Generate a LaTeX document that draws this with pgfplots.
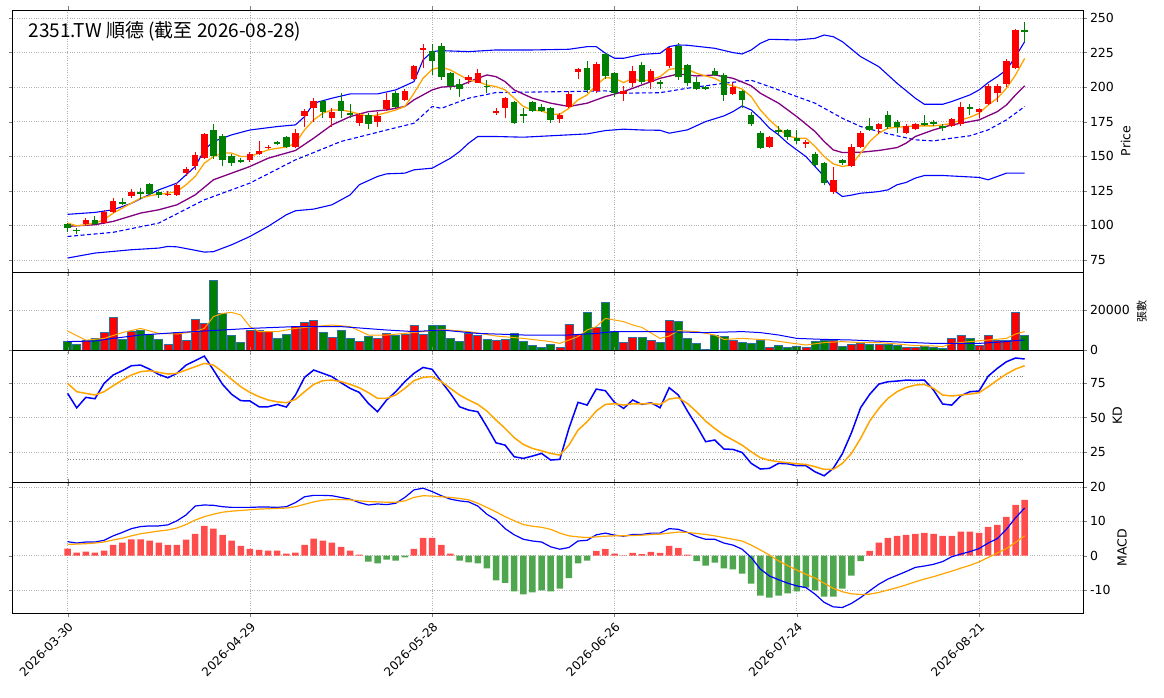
\documentclass[border=0pt]{standalone}
\usepackage{pgfplots}
\pgfplotsset{compat=1.18}
\usepackage{pgfplotstable}
\usepackage{fontspec}
\setmainfont{DejaVu Sans}
\newfontfamily\cjk{Noto Sans CJK TC}
\definecolor{cred}{HTML}{FF0000}
\definecolor{cgreen}{HTML}{008000}
\definecolor{hred}{HTML}{FF4C4C}
\definecolor{hgreen}{HTML}{4EA64E}
\definecolor{vedge}{HTML}{2F6F9F}
\definecolor{corange}{HTML}{FFA500}
\definecolor{cpurple}{HTML}{800080}
\pgfplotstableread{
i o c v h l
0 101 98 4500 102 95
1 97 96 2800 98 94
2 101 104 5000 105 100
3 104 101 6000 107 100
4 102 110 9000 111 101
5 110 118 16500 120 109
6 117 116 5500 120 115
7 121 124 9500 126 120
8 124 123 10000 127 119
9 130 123 8000 131 122
10 124 122 5500 126 120
11 122 123 3000 125 121
12 122 129 9000 131 121
13 138 141 5000 142 136
14 143 151 15500 153 140
15 149 166 13500 167 148
16 169 150 35000 173 148
17 165 147 18500 166 143
18 150 145 7500 152 143
19 147 146 4000 149 145
20 147 152 10000 153 146
21 152 154 10000 161 151
22 156 157 9500 158 155
23 160 159 6000 161 158
24 164 157 8000 165 156
25 157 167 12000 170 156
26 179 183 14000 184 171
27 185 190 15000 192 175
28 190 182 9000 191 178
29 178 182 6500 185 171
30 190 183 10000 196 178
31 181 180 6000 188 178
32 174 180 4500 181 172
33 180 173 7000 181 170
34 175 179 6000 182 171
35 184 191 8500 196 183
36 196 186 7500 197 185
37 191 197 8000 199 190
38 206 215 12500 216 205
39 227 228 8000 231 214
40 226 219 12500 231 209
41 230 207 12500 232 205
42 210 201 6000 211 198
43 202 199 4500 206 193
44 205 207 8500 209 202
45 203 210 7500 213 203
46 201 200 5500 205 196
47 181 183 5000 185 180
48 185 192 5500 193 178
49 189 174 8500 190 173
50 180 180 4500 185 174
51 189 183 2500 190 182
52 186 183 1500 188 182
53 185 176 3000 186 174
54 177 180 1500 181 174
55 186 195 13000 197 185
56 211 213 8000 214 206
57 214 198 19000 219 196
58 197 217 11500 218 196
59 224 208 24000 225 206
60 210 196 9500 211 193
61 195 197 4000 201 190
62 203 212 6500 215 200
63 216 204 6500 218 202
64 204 212 5000 213 199
65 204 202 4000 205 199
66 215 228 15000 229 214
67 230 207 14500 232 205
68 216 203 6000 217 201
69 204 199 3500 207 198
70 200 199 300 201 198
71 212 209 7500 214 208
72 209 194 7000 210 190
73 195 200 5000 204 194
74 197 191 4000 198 185
75 180 173 3500 182 172
76 167 156 5000 168 155
77 157 164 1500 165 156
78 169 168 2500 172 165
79 169 164 1500 170 162
80 163 161 2000 169 159
81 159 160 1500 162 156
82 152 144 4500 153 143
83 145 131 5000 146 129
84 124 133 5000 142 123
85 147 145 2000 148 144
86 143 157 3000 159 142
87 157 167 3500 168 156
88 172 169 3000 178 168
89 170 173 3000 174 166
90 180 171 3000 183 170
91 175 171 2500 176 167
92 167 172 1500 173 166
93 170 173 1500 174 169
94 174 173 2000 180 172
95 175 173 1500 176 172
96 172 171 1000 173 168
97 172 177 6000 178 171
98 173 186 7500 189 172
99 186 184 6000 188 180
100 182 184 2500 185 178
101 188 201 7500 202 187
102 196 201 5000 202 189
103 202 219 5000 220 200
104 214 241 19000 242 213
105 241 240 7500 247 233
}\candles
\pgfplotstableread{
i k d
0 67.5 74.7
1 57 68.7
2 64.6 67.5
3 63.6 66.3
4 74.7 68.7
5 80.8 73
6 83.9 77.1
7 87.5 80.8
8 88 83.2
9 85 83.9
10 81.2 82.7
11 78.8 81.5
12 82 82
13 88 84.4
14 91.2 86.8
15 94.5 89.2
16 84.4 88
17 74 83.2
18 66.8 77.6
19 62.2 72.3
20 62 68.2
21 57.8 65.1
22 57.8 62.7
23 59.5 61.4
24 57.6 60.7
25 66.3 63.1
26 79.1 68.7
27 84.4 74
28 82 76.7
29 79.6 77.1
30 75.2 76
31 71.1 74
32 68.2 71.6
33 60.2 68
34 54.2 63.9
35 62.7 63.9
36 68.7 66.3
37 76 71.1
38 82 76.7
39 86.3 79.1
40 84.9 79.6
41 76 76
42 67.5 71.1
43 57.8 66.3
44 55.4 62.7
45 54.2 59.5
46 43.3 54.7
47 31.7 48.2
48 30 42.1
49 21.6 35.4
50 20.4 30.5
51 22.1 27.6
52 24 25.9
53 19.2 24
54 19.7 22.8
55 42.1 30
56 61 40.9
57 59 47
58 70.6 54.7
59 69.4 59.5
60 61 60
61 56.6 59
62 62.7 60
63 59.5 59.8
64 60.7 60.2
65 57.1 59.5
66 71.6 63.4
67 66.3 64.3
68 54.7 60.2
69 44.1 54.2
70 32.5 47.4
71 33.7 42.1
72 27.2 37.3
73 26.9 33.7
74 24.7 30
75 16.8 25.2
76 12.7 20.9
77 13.2 19
78 16.8 18
79 16.5 17.3
80 15.1 16.5
81 15.1 16
82 10.7 14.4
83 7.8 12.4
84 13.2 12.4
85 23.8 16.8
86 39 24
87 57.1 34.9
88 66.8 47.4
89 74.2 56.6
90 75.9 63.9
91 76.4 68.7
92 77.1 71.8
93 76.9 73.5
94 77.1 74
95 69.9 71.1
96 59.8 66.3
97 59 65.6
98 65.8 66.3
99 68.7 67
100 69.2 68
101 80 72.3
102 85.6 77.1
103 90.4 81.5
104 93.1 85.1
105 92.4 87.5
}\kd
\pgfplotstableread{
i dif dea h
0 4.1 3.3 2.1
1 3.7 3.4 0.9
2 4.0 3.5 1.2
3 4.0 3.7 0.9
4 4.5 4.0 1.5
5 5.8 4.6 3.2
6 6.8 5.1 3.8
7 7.9 5.8 4.8
8 8.5 6.4 4.8
9 8.7 6.8 4.4
10 8.7 7.2 3.8
11 9.0 7.5 3.2
12 10.2 8.1 3.2
13 11.9 9.1 4.7
14 14.5 10.4 6.4
15 14.8 11.4 8.7
16 14.7 12.1 7.9
17 14.3 12.7 6.1
18 14.1 13 4.4
19 14.1 13.2 2.9
20 14.1 13.4 2.0
21 14.2 13.6 1.7
22 14.2 13.7 1.5
23 14.1 13.8 1.5
24 14.3 13.9 0.6
25 15.5 14.3 0.9
26 17.2 15 3.2
27 17.6 15.7 5.0
28 17.6 16.2 4.4
29 17.5 16.4 3.8
30 17 16.4 2.6
31 16.5 16.3 1.5
32 15.5 16 0.3
33 14.8 15.8 -1.7
34 15.1 15.7 -2.2
35 14.9 15.6 -1.1
36 15.3 15.6 -1.4
37 17 16 -0.5
38 19.2 17 2.0
39 19.7 17.5 5.2
40 18.7 17.4 5.2
41 17.5 17.2 3.2
42 16.5 17 0.6
43 16.0 16.7 -1.4
44 15.7 16.3 -1.9
45 14.5 15.3 -2.2
46 12.1 14.1 -3.7
47 10.5 12.8 -7.2
48 7.9 11.4 -7.9
49 6.1 10.2 -10.4
50 4.8 9.1 -11.3
51 4.3 8.6 -10.7
52 4.0 8.3 -10.1
53 2.6 7.7 -10.4
54 1.9 6.6 -9.6
55 2.4 5.8 -6.5
56 4.3 5.5 -2.2
57 4.5 5.3 -1.4
58 6.1 5.5 1.4
59 6.6 5.7 2.0
60 6.0 5.8 0.6
61 5.7 5.8 0.1
62 6.2 5.9 0.8
63 6.2 6.0 0.5
64 6.6 6.2 1.1
65 6.6 6.3 0.8
66 7.9 6.6 2.9
67 7.7 6.9 2.3
68 6.8 6.8 0.3
69 5.6 6.5 -1.6
70 4.8 6.2 -2.9
71 4.8 5.8 -2.0
72 3.7 5.3 -3.7
73 3.1 4.8 -4.0
74 1.9 4.3 -5.2
75 -0.5 3.1 -8.1
76 -3.9 1.7 -11.6
77 -5.9 0.2 -12.2
78 -7.0 -1.5 -11.6
79 -8.0 -2.9 -11.0
80 -8.8 -4.2 -10.4
81 -9.3 -5.4 -9.3
82 -11.2 -6.5 -10.1
83 -13.6 -8.0 -11.9
84 -14.9 -9.5 -11.9
85 -15.1 -10.5 -9.6
86 -13.9 -11.1 -5.8
87 -12.2 -11.3 -1.6
88 -10.2 -11.2 1.4
89 -8.3 -10.7 3.8
90 -6.8 -10.0 5.2
91 -5.7 -9.3 5.8
92 -4.6 -8.5 6.1
93 -3.4 -7.6 6.4
94 -3.0 -6.8 6.7
95 -2.5 -6.1 6.4
96 -1.7 -5.3 5.8
97 -0.3 -4.5 5.8
98 0.5 -3.6 7.0
99 1.2 -2.8 7.0
100 2.1 -1.8 6.7
101 3.7 -0.5 8.4
102 5.0 0.8 9.0
103 7.7 2.1 11.3
104 11.1 3.9 14.8
105 13.9 5.8 16.3
}\macd
\pgfplotsset{
  panel/.style={scale only axis, width=1071pt, xmin=-6.1, xmax=111.4,
    grid=major, grid style={gray!60, dotted, line width=0.6pt},
    yticklabel pos=right, ylabel near ticks,
    tick label style={font=\fontsize{12.5}{14}\selectfont},
    label style={font=\fontsize{12.5}{14}\selectfont},
    /pgf/number format/assume math mode=true,
    /pgf/number format/1000 sep={},
    scaled y ticks=false,
    xtick={0,20,40,60,80,100}, xticklabels={},
    tick align=outside, major tick length=3.5pt,
    axis line style={line width=0.8pt},
    clip=true},
  cndl/.style={draw=none, mark=none, forget plot, unbounded coords=discard,
    error bars/.cd, y dir=both, y explicit, error mark=none},
}
\begin{document}
\begin{tikzpicture}
\path[use as bounding box] (0,0) rectangle (1164pt,-698pt);
% price
\begin{axis}[panel, at={(12pt,-10pt)}, anchor=north west, height=262pt,
  ymin=66.3, ymax=255.8, ytick={75,100,...,250}, ylabel={Price}]
\addplot[blue, line width=1.1pt] coordinates {(0,108)(3,109.4)(5,111.3)(7,116)(10,125.7)(12,130.6)(14,142.6)(15,154.6)(16,160.7)(18,165.5)(20,169)(23,171.5)(25,172.7)(26,178.7)(27,188.4)(29,192)(31,195.1)(34,195.1)(36,198)(38,204)(39,219.7)(40,225.7)(41,226.4)(44,225.7)(47,226.9)(51,226.9)(55,227.4)(57,229.3)(58,229.3)(59,224.5)(60,220.9)(61,220.9)(63,223.7)(65,224.5)(66,229.3)(67,230.5)(68,230.3)(71,228.1)(73,225)(74,224)(75,226.9)(76,231.7)(77,234.6)(80,234.1)(82,235.3)(83,237.7)(84,236.5)(85,232.9)(87,222.1)(89,214.8)(91,202.8)(93,192)(94,187.6)(96,187.6)(97,189.6)(99,194.4)(100,198)(101,203.3)(102,207.6)(103,212.4)(104,222.1)(105,232.9)};
\addplot[blue, line width=1.1pt] coordinates {(0,76.4)(3,80)(5,81.2)(7,82.4)(10,83.6)(11,84.8)(12,84.5)(14,82)(15,80.7)(16,81)(18,86)(20,92)(22,99.3)(24,107.7)(25,110.6)(27,111.8)(29,114.9)(31,122.1)(32,129.4)(34,135.4)(35,137.3)(37,137.8)(38,140.2)(40,141.4)(41,145)(42,148.6)(43,153.4)(44,159.5)(45,164.3)(47,164.3)(50,163.8)(55,165.5)(57,166.2)(59,168.6)(61,169.6)(63,169)(65,168.8)(66,166.7)(68,169.1)(70,175.1)(72,179.2)(73,182.3)(74,186.4)(75,183.5)(76,177.5)(77,170.3)(78,165.5)(79,159.5)(80,154.6)(81,149.8)(82,142.6)(83,135.4)(84,125.7)(85,120.9)(86,121.9)(87,123.3)(88,123.8)(89,124.5)(90,125.7)(91,129.4)(92,131.1)(93,134.2)(94,136.1)(96,136.1)(98,135.4)(100,134.7)(101,133)(102,135.4)(103,137.8)(105,137.8)};
\addplot[blue, dash pattern=on 4pt off 2.5pt, line width=1.1pt] coordinates {(0,92)(5,95)(10,101.7)(15,118.5)(20,130.6)(25,147.4)(30,160.7)(35,169)(38,173.9)(40,186)(41,184.7)(44,192)(47,196.1)(55,196.8)(59,197.3)(61,195.6)(65,196)(68,199.2)(72,202.8)(75,205)(77,200.4)(80,193.2)(82,188.4)(85,177.5)(87,171.5)(89,167.9)(91,164.8)(93,161.9)(95,161.1)(97,163.1)(99,164.8)(101,169.1)(103,176.3)(105,186)};
\addplot[cpurple, line width=1.3pt] coordinates {(0,99.3)(3,100.5)(5,102.9)(8,108.9)(10,111.3)(12,114.9)(14,122.1)(16,133)(18,137.8)(20,142.6)(22,148.6)(25,154.2)(27,163.1)(29,172.7)(31,178.7)(33,182.3)(35,183.5)(37,186)(38,190.8)(40,198)(41,200)(43,201)(45,206.4)(46,208.8)(47,207.6)(48,204)(49,198)(51,192)(53,188.4)(55,186)(57,188.4)(59,193.2)(61,196.8)(63,201.6)(65,206.4)(67,209.5)(69,208.1)(71,208.8)(73,206.4)(75,201)(76,195.6)(78,188.4)(80,178.7)(82,167.9)(83,160.7)(84,154.6)(85,152.7)(87,152.9)(89,154.2)(91,156.3)(92,159.5)(93,164.3)(95,169.1)(97,172.7)(99,175.1)(100,176.3)(102,182.3)(103,187.1)(104,194.4)(105,200.9)};
\addplot[corange, line width=1.3pt] coordinates {(0,101.7)(1,99.7)(2,100.5)(3,101.7)(4,104.1)(5,108.9)(6,112.5)(7,116.1)(8,119.7)(9,121.4)(10,122.6)(11,123.3)(12,124.5)(13,129.4)(14,135.4)(15,145)(16,149.8)(17,152.3)(18,152.3)(19,149.8)(20,149.8)(21,152.3)(22,154.6)(23,155.8)(24,156.6)(25,159.5)(26,169.1)(27,176.3)(28,181.1)(29,183.5)(30,183.5)(31,182.3)(32,180.6)(33,178.7)(34,179.9)(35,181.6)(36,183.5)(37,186)(38,195.6)(39,206.4)(40,212.9)(41,214.4)(42,212.4)(43,208.8)(44,205.2)(45,204)(46,201.6)(47,200.4)(48,198)(49,192)(50,186)(51,183.5)(52,182.8)(53,180.4)(54,180.4)(55,184.7)(56,190.8)(57,194.4)(58,201.6)(59,206.9)(60,206.4)(61,203.3)(62,206.4)(63,204)(64,205.7)(65,207.6)(66,212.9)(67,213.6)(68,212.9)(69,210)(70,208.1)(71,206.4)(72,202.8)(73,200.9)(74,198.6)(75,193.2)(76,183.5)(77,176.3)(78,170.3)(79,164.8)(80,163.1)(81,163.1)(82,157.1)(83,149.8)(84,144.5)(85,142.6)(86,143.8)(87,152.2)(88,160.7)(89,166.7)(90,170.3)(91,171)(92,171.5)(93,172)(94,172)(95,172)(96,172.7)(97,173.9)(98,176.3)(99,178.2)(100,181.1)(101,187.1)(102,192)(103,199.2)(104,208.8)(105,220.8)};
% wicks
\addplot[cndl, error bar style={draw=cred, line width=1pt}] table[x=i, y expr={\thisrow{c}>\thisrow{o} ? (\thisrow{h}+\thisrow{l})/2 : nan}, y error expr={(\thisrow{h}-\thisrow{l})/2}] \candles;
\addplot[cndl, error bar style={draw=cgreen, line width=1pt}] table[x=i, y expr={\thisrow{c}>\thisrow{o} ? nan : (\thisrow{h}+\thisrow{l})/2}, y error expr={(\thisrow{h}-\thisrow{l})/2}] \candles;
% bodies
\addplot[cndl, error bar style={draw=cred, line width=6.5pt}] table[x=i, y expr={\thisrow{c}>\thisrow{o} ? (\thisrow{o}+\thisrow{c})/2 : nan}, y error expr={max(abs(\thisrow{c}-\thisrow{o})/2,0.4)}] \candles;
\addplot[cndl, error bar style={draw=cgreen, line width=6.5pt}] table[x=i, y expr={\thisrow{c}>\thisrow{o} ? nan : (\thisrow{o}+\thisrow{c})/2}, y error expr={max(abs(\thisrow{c}-\thisrow{o})/2,0.4)}] \candles;
\node[anchor=west, font=\cjk\fontsize{19}{21}\selectfont] at (rel axis cs:0,1) [xshift=13pt, yshift=-21pt] {2351.TW 順德 (截至 2026-08-28)};
\end{axis}
% volume
\begin{axis}[panel, at={(12pt,-272pt)}, anchor=north west, height=78pt,
  ymin=0, ymax=39000, ytick={0,20000}, ylabel={\cjk 張數}, ylabel style={font=\cjk\fontsize{11}{12}\selectfont}]
\addplot[ybar, bar width=8pt, bar shift=0pt, fill=cred, draw=vedge, line width=0.6pt, unbounded coords=discard] table[x=i, y expr={\thisrow{c}>\thisrow{o} ? \thisrow{v} : nan}] \candles;
\addplot[ybar, bar width=8pt, bar shift=0pt, fill=cgreen, draw=vedge, line width=0.6pt, unbounded coords=discard] table[x=i, y expr={\thisrow{c}>\thisrow{o} ? nan : \thisrow{v}}] \candles;
\addplot[corange, line width=1pt] coordinates {(0,9500)(2,4900)(4,5800)(6,8700)(8,10800)(10,8300)(12,8000)(14,9200)(15,10800)(16,16700)(17,18300)(18,18800)(19,17500)(20,11700)(21,9200)(23,9200)(25,10800)(27,11700)(29,12500)(31,11700)(33,7500)(35,7500)(37,8300)(39,9200)(41,10300)(44,9200)(47,7000)(50,5800)(53,4200)(54,3300)(56,6700)(57,10000)(58,11700)(59,15800)(61,14200)(62,12500)(63,11300)(65,5800)(66,7000)(67,9700)(69,9200)(71,7500)(72,5300)(74,5800)(77,5000)(79,3700)(81,2500)(83,3700)(85,4200)(87,3700)(89,3700)(91,3000)(93,2200)(95,2000)(96,1700)(97,3300)(99,4200)(101,5000)(103,5800)(104,8000)(105,9200)};
\addplot[blue, line width=1pt] coordinates {(0,4200)(3,4500)(5,5800)(8,7500)(12,8700)(15,9500)(17,10000)(20,10800)(25,11700)(30,11700)(35,10000)(38,9200)(41,10000)(45,8300)(50,7500)(55,7500)(58,8300)(60,9200)(65,9200)(70,8700)(74,9200)(76,8700)(78,7500)(80,5800)(83,5300)(86,5000)(90,4200)(95,3300)(100,3300)(103,4200)(104,4700)(105,5000)};
\end{axis}
% KD
\begin{axis}[panel, at={(12pt,-350pt)}, anchor=north west, height=132pt,
  ymin=3.3, ymax=98.9, ytick={25,50,75}, ylabel={KD}]
\addplot[gray, dotted, line width=0.8pt] coordinates {(0,80)(105,80)};
\addplot[gray, dotted, line width=0.8pt] coordinates {(0,20)(105,20)};
\addplot[blue, line width=1.5pt] table[x=i, y=k] \kd;
\addplot[corange, line width=1.5pt] table[x=i, y=d] \kd;
\end{axis}
% MACD
\begin{axis}[panel, at={(12pt,-482pt)}, anchor=north west, height=131pt,
  ymin=-16.7, ymax=21.5, ytick={-10,0,10,20}, ylabel={MACD},
  xticklabels={2026-03-30,2026-04-29,2026-05-28,2026-06-26,2026-07-24,2026-08-21},
  xticklabel style={rotate=45, anchor=north east, font=\fontsize{12}{14}\selectfont}]
\addplot[ybar, bar width=6.5pt, bar shift=0pt, fill=hred, draw=none, unbounded coords=discard] table[x=i, y expr={\thisrow{h}>0 ? \thisrow{h} : nan}] \macd;
\addplot[ybar, bar width=6.5pt, bar shift=0pt, fill=hgreen, draw=none, unbounded coords=discard] table[x=i, y expr={\thisrow{h}>0 ? nan : \thisrow{h}}] \macd;
\addplot[blue, line width=1.2pt] table[x=i, y=dif] \macd;
\addplot[corange, line width=1.2pt] table[x=i, y=dea] \macd;
\end{axis}
\end{tikzpicture}
\end{document}
